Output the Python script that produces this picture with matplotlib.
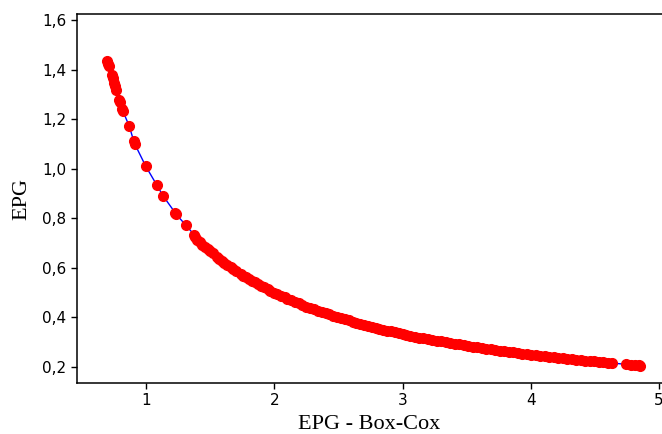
import matplotlib
matplotlib.use("Agg")
import matplotlib.pyplot as plt
from matplotlib.ticker import FuncFormatter

# Data (x = EPG - Box-Cox, y = EPG)
x_vals = [0.698, 0.703, 0.714, 0.735, 0.742, 0.750, 0.758, 0.766, 0.792, 0.797, 0.815, 0.820,
          0.870, 0.905, 0.912, 0.998, 1.083, 1.135, 1.228, 1.236, 1.310, 1.377,
          1.38, 1.40, 1.42, 1.44, 1.46, 1.48, 1.50, 1.52, 1.55, 1.57, 1.59, 1.61, 1.63,
          1.66, 1.68, 1.70, 1.74, 1.76, 1.78, 1.80, 1.83, 1.85, 1.87, 1.90, 1.92, 1.95,
          1.97, 2.00, 2.02, 2.05, 2.08, 2.10, 2.13, 2.16, 2.19, 2.22, 2.25, 2.28, 2.31,
          2.34, 2.37, 2.40, 2.43, 2.46, 2.49, 2.52, 2.55, 2.58, 2.61, 2.64, 2.67, 2.70,
          2.73, 2.76, 2.79, 2.82, 2.85, 2.88, 2.91, 2.94, 2.97, 3.00, 3.03, 3.06, 3.10,
          3.13, 3.16, 3.20, 3.23, 3.27, 3.30, 3.34, 3.37, 3.41, 3.44, 3.48, 3.51, 3.55,
          3.58, 3.62, 3.65, 3.69, 3.72, 3.76, 3.79, 3.83, 3.86, 3.90, 3.93, 3.97, 4.00,
          4.04, 4.07, 4.11, 4.14, 4.18, 4.21, 4.25, 4.28, 4.32, 4.35, 4.39, 4.42, 4.46,
          4.49, 4.53, 4.56, 4.60, 4.63, 4.74, 4.78, 4.81, 4.84, 4.85]
y_vals = [1.436, 1.424, 1.414, 1.378, 1.366, 1.347, 1.333, 1.318, 1.277, 1.268, 1.241, 1.232,
          1.171, 1.110, 1.100, 1.010, 0.935, 0.889, 0.822, 0.816, 0.772, 0.733,
          0.725, 0.714, 0.704, 0.694, 0.685, 0.676, 0.667, 0.658, 0.645, 0.637, 0.629, 0.621, 0.613,
          0.602, 0.595, 0.588, 0.575, 0.568, 0.562, 0.556, 0.546, 0.541, 0.535, 0.526, 0.521, 0.513,
          0.508, 0.500, 0.495, 0.488, 0.481, 0.476, 0.469, 0.463, 0.457, 0.450, 0.444, 0.439, 0.433,
          0.427, 0.422, 0.417, 0.412, 0.407, 0.402, 0.397, 0.392, 0.388, 0.383, 0.379, 0.375, 0.370,
          0.366, 0.362, 0.358, 0.355, 0.351, 0.347, 0.344, 0.340, 0.337, 0.333, 0.330, 0.327, 0.323,
          0.319, 0.316, 0.313, 0.310, 0.306, 0.303, 0.299, 0.297, 0.293, 0.291, 0.287, 0.285, 0.282,
          0.279, 0.276, 0.274, 0.271, 0.269, 0.266, 0.264, 0.261, 0.259, 0.256, 0.254, 0.252, 0.250,
          0.248, 0.246, 0.243, 0.242, 0.239, 0.238, 0.235, 0.234, 0.231, 0.230, 0.228, 0.226, 0.224,
          0.223, 0.221, 0.219, 0.217, 0.216, 0.211, 0.209, 0.208, 0.207, 0.206]

x_ticks = [1, 2, 3, 4, 5]
y_ticks = [0.2, 0.4, 0.6, 0.8, 1.0, 1.2, 1.4, 1.6]
x_label = "EPG - Box-Cox"
y_label = "EPG"

fig = plt.figure(figsize=(6.62, 4.34), dpi=100)
ax = fig.add_axes([77 / 662, 1 - 383 / 434, (662 - 77) / 662, (383 - 14) / 434])

ax.plot(x_vals, y_vals, color="#0000FF", linewidth=1.0, zorder=1)
ax.plot(x_vals, y_vals, linestyle="none", marker="o", markersize=7,
        markerfacecolor="#FF0000", markeredgecolor="#FF0000", zorder=2)

ax.set_xlim(0.462, 5.023)
ax.set_ylim(0.1355, 1.624)
ax.set_xticks(x_ticks)
ax.set_yticks(y_ticks)
ax.yaxis.set_major_formatter(FuncFormatter(lambda v, p: f"{v:.1f}".replace(".", ",")))
ax.xaxis.set_major_formatter(FuncFormatter(lambda v, p: f"{int(round(v))}"))

for s in ["left", "bottom", "top"]:
    ax.spines[s].set_linewidth(1.1)
    ax.spines[s].set_color("black")
ax.spines["right"].set_visible(False)

ax.tick_params(direction="out", length=4.5, width=1.0, labelsize=11, colors="black",
               top=False, right=False, pad=3)
for lab in ax.get_xticklabels() + ax.get_yticklabels():
    lab.set_family("DejaVu Sans")

ax.set_xlabel(x_label, family="Liberation Serif", fontsize=16, labelpad=5)
ax.set_ylabel(y_label, family="Liberation Serif", fontsize=16, labelpad=8)

fig.savefig("out.png", dpi=100)
